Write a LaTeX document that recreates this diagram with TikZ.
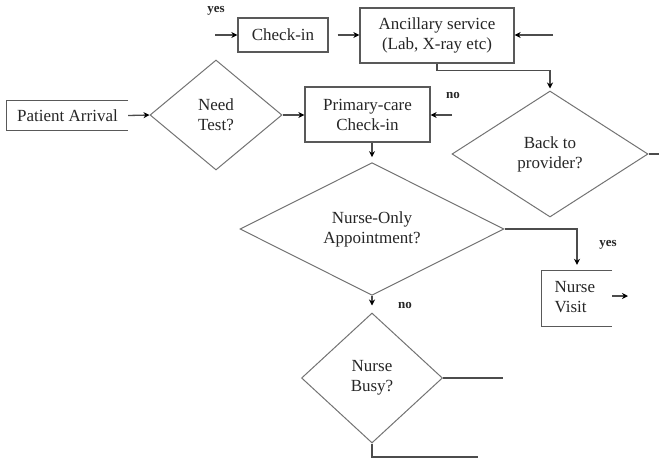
\documentclass[tikz,border=0pt]{standalone}
\usepackage{fontspec}
\setmainfont{Liberation Serif}
\usetikzlibrary{shapes.geometric,arrows.meta,calc}
\tikzset{
  txt/.style={font=\fontsize{17}{20}\selectfont, text=black!85, align=center},
  boxnode/.style={txt, draw=black!65, line width=1.3pt, inner sep=0pt},
  openbox/.style={txt, inner sep=0pt},
  decision/.style={txt, diamond, draw=black!55, line width=1pt, inner sep=0pt},
  link/.style={draw=black!70, line width=1.3pt},
  arr/.style={link, -{Stealth[length=6pt,width=6pt,color=black]}},
  tag/.style={font=\fontsize{13}{15}\selectfont\bfseries, text=black!85, inner sep=0pt},
}
\begin{document}
\begin{tikzpicture}[x=1pt,y=-1pt]
\useasboundingbox (0,0) rectangle (659,459);

% boxes
\node[boxnode, minimum width=90pt, minimum height=34pt] (checkin) at (283,35) {Check-in};
\node[boxnode, minimum width=154pt, minimum height=55pt] (ancillary) at (437,35.5)
  {Ancillary service\\(Lab, X-ray etc)};
\node[boxnode, minimum width=125pt, minimum height=55pt] (primary) at (367.5,114.5)
  {Primary-care\\Check-in};
\node[openbox, minimum width=121pt, minimum height=29pt] (patient) at (67.5,115.5) {Patient Arrival};
\draw[draw=black!65, line width=1.3pt] (patient.north east) -- (patient.north west)
  -- (patient.south west) -- (patient.south east);
\node[openbox, minimum width=70pt, minimum height=55pt] (nursevisit) at (577,298.5) {};
\node[txt, align=left, anchor=west] (nvtext) at (551,297) {Nurse\\Visit};
\draw[draw=black!65, line width=1.3pt] (nursevisit.north east) -- (nursevisit.north west)
  -- (nursevisit.south west) -- (nursevisit.south east);

% decisions
\node[decision, minimum width=132pt, minimum height=110pt] (needtest) at (216,115) {Need\\Test?};
\node[decision, minimum width=196pt, minimum height=126pt] (backto) at (550,154) {Back to\\provider?};
\node[decision, minimum width=264pt, minimum height=122pt] (nurseonly) at (372,229)
  {Nurse-Only\\Appointment?};
\node[decision, minimum width=141pt, minimum height=130pt] (nursebusy) at (372,378) {Nurse\\Busy?};

% free ends
\coordinate (yesin) at (215,35);
\coordinate (ancin) at (553,35);
\coordinate (noin) at (452,115);
\coordinate (nvout) at (628,296);
\coordinate (btout) at (659,154);
\coordinate (busyright) at (503,378);
\coordinate (busydown) at (372,457);
\coordinate (busyend) at (478,457);

% labels
\node[tag] (yes1) at (216,11) {yes};
\node[tag] (no1) at (453,95) {no};
\node[tag] (yes2) at (608,245) {yes};
\node[tag] (no2) at (405,305) {no};

% connectors
\draw[arr] (yesin) -- (checkin.west);
\draw[arr, shorten <=9pt] (checkin.east) -- (ancillary.west |- checkin.east);
\draw[arr] (ancin) -- (ancillary.east |- ancin);
\draw[arr, shorten >=2pt] (ancillary.south) -- ++(0,7) -| (backto.north);
\draw[link] (backto.east) -- (btout);
\draw[arr] (patient.east) -- (needtest.west);
\draw[arr] (needtest.east) -- (primary.west |- needtest.east);
\draw[arr] (noin) -- (primary.east |- noin);
\draw[arr, shorten >=5pt] (primary.south -| nurseonly.north) -- (nurseonly.north);
\draw[arr, shorten >=6pt] (nurseonly.east) -| (nursevisit.north);
\draw[arr] (nursevisit.east |- nvout) -- (nvout);
\draw[arr, shorten >=7pt] (nurseonly.south) -- (nursebusy.north);
\draw[link] (nursebusy.east) -- (busyright);
\draw[link] (nursebusy.south) -- (busydown) -- (busyend);
\end{tikzpicture}
\end{document}
